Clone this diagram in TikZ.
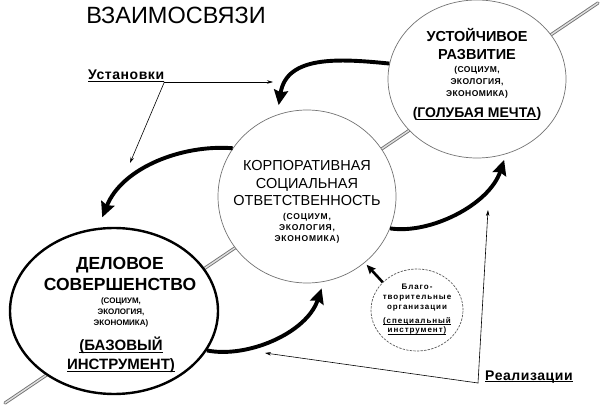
\documentclass[tikz,border=0pt]{standalone}
\usepackage{fontspec}
\setmainfont{Liberation Sans}
\usetikzlibrary{arrows.meta, positioning, shapes.geometric}

\newcommand{\lined}[1]{\leavevmode\setbox0\hbox{#1}\rlap{\rule[-2.2pt]{\wd0}{1.1pt}}\box0}

\begin{document}
\begin{tikzpicture}[x=1pt, y=1pt, >=Stealth, line cap=round, line join=round]
    % Styles
    \tikzset{
        circ/.style={ellipse, fill=white, inner sep=0pt},
        thincirc/.style={circ, draw=black!55, line width=0.7pt},
        boldcirc/.style={circ, draw=black, line width=2.4pt},
        dashcirc/.style={circ, draw=black!65, line width=0.7pt, dash pattern=on 2pt off 1.6pt},
        axisline/.style={draw=black!55, double=black!12, double distance=1.4pt, line width=0.9pt},
        flow/.style={line width=3.9pt, line cap=butt, -{Stealth[length=15pt, width=14pt, inset=2pt]}},
        pointer/.style={line width=0.6pt, -{Stealth[length=6pt, width=3.5pt]}},
        headtxt/.style={font=\bfseries\fontsize{14}{18}\selectfont, align=center, inner sep=0pt},
        subtxt/.style={font=\bfseries\fontsize{8}{11}\selectfont, align=center, inner sep=0pt},
        notetxt/.style={font=\bfseries\fontsize{8}{10}\selectfont\addfontfeature{LetterSpace=12}, align=center, inner sep=0pt},
        tagtxt/.style={font=\bfseries\fontsize{14}{18}\selectfont\addfontfeature{LetterSpace=4}, inner sep=0pt}
    }
    \useasboundingbox (0,0) rectangle (602,407);

    % --- Diagonal axis ---
    \coordinate (axisA) at (5,4);
    \coordinate (axisB) at (598,404);
    \draw[axisline] (axisA) -- (axisB);

    % --- Title ---
    \node[font=\fontsize{23.5}{28}\selectfont] (heading) at (176,392) {ВЗАИМОСВЯЗИ};

    % --- Sustainable development (top right) ---
    \node[thincirc, minimum width=178pt, minimum height=158pt] (ustoi) at (477,328) {};
    \node[headtxt, font=\bfseries\fontsize{14.5}{18}\selectfont] (ustoihead) at ([yshift=35pt]ustoi.center) {УСТОЙЧИВОЕ\\РАЗВИТИЕ};
    \node[subtxt, font=\bfseries\fontsize{8.5}{12}\selectfont\addfontfeature{LetterSpace=5}] (ustoisub)
        at ([yshift=-3pt]ustoi.center) {(СОЦИУМ,\\ЭКОЛОГИЯ,\\ЭКОНОМИКА)};
    \node[headtxt] (ustoitag) at ([yshift=-35pt]ustoi.center) {(\lined{ГОЛУБАЯ МЕЧТА})};

    % --- Corporate social responsibility (centre) ---
    \node[thincirc, minimum width=178pt, minimum height=173pt] (ksr) at (307,210.5) {};
    \node[headtxt, font=\fontsize{14.5}{17.5}\selectfont] (ksrhead) at ([yshift=13pt]ksr.center)
        {КОРПОРАТИВНАЯ\\СОЦИАЛЬНАЯ\\ОТВЕТСТВЕННОСТЬ};
    \node[subtxt, font=\bfseries\fontsize{8.5}{11}\selectfont\addfontfeature{LetterSpace=9}] (ksrsub)
        at ([yshift=-32pt]ksr.center) {(СОЦИУМ,\\ЭКОЛОГИЯ,\\ЭКОНОМИКА)};

    % --- Business excellence (bottom left) ---
    \node[boldcirc, minimum width=208pt, minimum height=166pt] (delo) at (114,96) {};
    \node[headtxt, font=\bfseries\fontsize{17.5}{21}\selectfont] (delohead)
        at ([shift={(6pt,37pt)}]delo.center) {ДЕЛОВОЕ\\СОВЕРШЕНСТВО};
    \node[subtxt] (delosub) at ([shift={(7pt,-1pt)}]delo.center) {(СОЦИУМ,\\ЭКОЛОГИЯ,\\ЭКОНОМИКА)};
    \node[headtxt, font=\bfseries\fontsize{15}{18.5}\selectfont] (delotag)
        at ([shift={(7pt,-44pt)}]delo.center) {\lined{(БАЗОВЫЙ}\\\lined{ИНСТРУМЕНТ)}};

    % --- Charities (dashed) ---
    \node[dashcirc, minimum width=92pt, minimum height=82pt] (blago) at (417,97) {};
    \node[notetxt] (blagohead) at ([yshift=12pt]blago.center) {Благо-\\творительные\\организации};
    \node[notetxt, font=\bfseries\fontsize{8}{9.5}\selectfont\addfontfeature{LetterSpace=12}] (blagotag)
        at ([yshift=-16pt]blago.center) {\lined{(специальный}\\\lined{инструмент)}};

    % --- Thick flows ---
    \draw[flow] (ustoi.170) .. controls +(-50,5) and +(8,50) .. ([yshift=9pt]ksr.109);
    \draw[flow] (ksr.147) .. controls +(-50,4) and +(20,50) .. ([yshift=10pt]delo.98);
    \draw[flow] (delo.-23) .. controls +(40,-8) and +(-15,-45) .. ([shift={(1pt,-6pt)}]ksr.-81);
    \draw[flow] (ksr.-21) .. controls +(40,-6) and +(-15,-45) .. ([shift={(1pt,-5pt)}]ustoi.-71);
    \draw[flow, line width=2.6pt, -{Stealth[length=9pt, width=8pt, inset=1.5pt]}]
        (blago.141) -- ([shift={(2pt,-2pt)}]ksr.-49);

    % --- Settings ---
    \node[tagtxt, anchor=south west] (ustan) at (88,325) {\lined{Установки}};
    \coordinate (ustanA) at (273,325);
    \coordinate (ustanB) at (130,244);
    \draw[pointer] (ustan.south east) -- (ustanA);
    \draw[pointer] (ustan.south east) -- (ustanB);

    % --- Realisations ---
    \node[tagtxt, anchor=south west] (realiz) at (485,24) {\lined{Реализации}};
    \coordinate (realizC) at ([xshift=-7pt]realiz.south west);
    \coordinate (realizA) at (265,54);
    \coordinate (realizB) at (488,197);
    \draw[pointer] (realizC) -- (realizA);
    \draw[pointer] (realizC) -- (realizB);
\end{tikzpicture}
\end{document}
